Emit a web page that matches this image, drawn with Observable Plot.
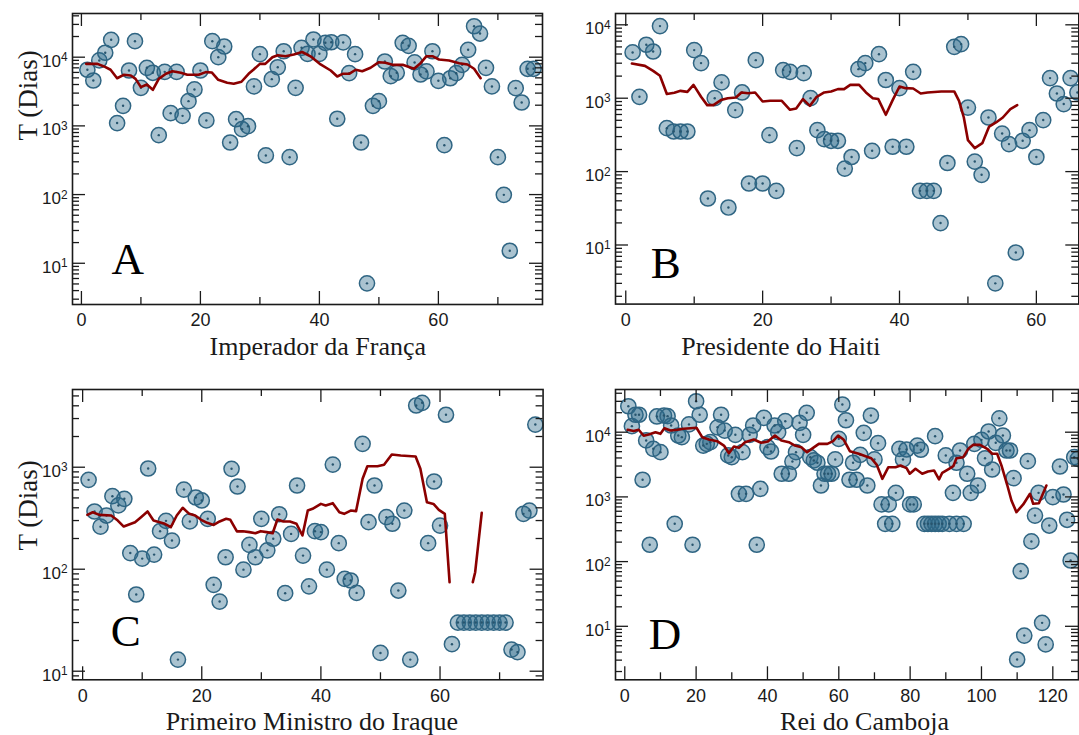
<!DOCTYPE html>
<html><head><meta charset="utf-8">
<script src="https://cdn.jsdelivr.net/npm/d3@7"></script>
<script src="https://cdn.jsdelivr.net/npm/@observablehq/plot@0.6"></script>
<style>
html,body{margin:0;padding:0;background:#fff;overflow:hidden;}
#chart{position:relative;width:1079px;height:735px;}
#chart svg{position:absolute;overflow:visible;background:transparent;}
</style></head><body><div id="chart"></div>
<script>
// ---------- Panel A: Imperador da França ----------
const aX = [1,2,3,4,5,6,7,8,9,10,11,12,13,14,15,16,17,18,19,20,21,22,23,24,25,26,27,28,29,30,31,32,33,34,35,36,37,38,39,40,41,42,43,44,45,46,47,48,49,50,51,52,53,54,55,56,57,58,59,60,61,62,63,64,65,66,67,68,69,70,71,72,73,74,75,76];
const aT = [6560,4580,8960,11600,17900,1100,1960,6400,17100,3580,7010,5930,733,6120,1530,6120,1400,2290,3390,6400,1200,17100,10000,14300,573,1250,896,990,3750,11070,371,4790,7140,12200,350,3580,13700,11200,18100,11200,16200,16500,1270,16400,5850,11070,573,5.1,1960,2290,8650,5290,5930,16200,14650,8380,5600,6200,12200,4530,523,4940,5850,7740,12800,28200,22100,7010,3750,350,99,15.2,3540,2190,6780,6780];
const aLineX = [0.8,2.7,3.8,4.9,6.0,7.1,8.3,9.1,10.0,11.0,12.0,13.0,14.2,15.3,16.7,17.8,19.7,20.9,21.9,23.0,24.5,25.6,26.9,28.1,28.9,30.0,30.9,32.1,33.0,34.3,35.7,37.1,38.5,40.2,41.9,43.0,43.9,45.0,46.1,47.2,48.6,50.0,51.1,52.3,54.0,55.9,57.0,58.0,59.0,60.1,61.8,63.5,64.9,66.0,67.1];
const aLineT = [8000,8000,7330,6560,4940,5540,5410,4840,3660,4000,3350,4840,5730,6250,5930,5540,5540,6060,6000,4690,4240,4100,4390,5730,6560,8000,8000,10000,10700,10340,10940,11900,10300,7830,6400,5230,5730,5730,6560,6250,7010,8460,8300,7740,7740,6780,8180,10340,10340,9260,8960,8180,7830,6780,4940];

// ---------- Panel B: Presidente do Haiti ----------
const bX = [1,2,3,4,5,6,7,8,9,10,11,12,13,14,15,16,17,18,19,20,21,22,23,24,25,26,27,28,29,30,31,32,33,34,35,36,37,38,39,40,41,42,43,44,45,46,47,48,49,50,51,52,53,54,55,56,57,58,59,60,61,62,63,64,65,66];
const bT = [4200,1045,5350,4330,9600,391,352,352,352,4520,3010,43,1000,1640,32.4,689,1197,68.9,3300,68.9,314,54.7,2415,2290,209,2200,1000,367,277,263,263,110,158,2490,3010,192,3980,1770,218,1370,218,2290,54.7,54.7,54.7,19.9,131,5010,5460,746,137,90.4,546,3.0,330,237,7.9,263,367,158,504,1880,1160,832,1880,1197];
const bLineX = [0.9,2.8,4.0,5.0,6.0,7.1,8.0,9.0,9.9,11.0,11.9,12.8,13.9,14.9,16.1,16.9,17.9,18.9,20.0,21.1,22.8,24.0,24.9,25.9,26.9,27.9,29.0,30.0,31.0,31.9,32.8,34.1,35.1,36.1,36.9,38.0,39.0,40.0,40.9,42.0,43.1,44.1,46.1,48.0,48.7,49.4,50.0,51.0,52.1,53.1,54.1,55.1,56.2,57.2];
const bLineT = [2970,2760,2360,2020,1140,1190,1260,1220,1520,1045,805,805,942,1000,1020,1197,1170,1197,902,922,922,695,724,973,787,1045,1197,1236,1330,1330,1520,1520,1197,1000,973,594,942,1445,1370,1355,1160,1197,1236,1236,922,546,268,209,244,411,467,546,710,805];

// ---------- Panel C: Primeiro Ministro do Iraque ----------
const cX = [1,2,3,4,5,6,7,8,9,10,11,12,13,14,15,16,17,18,19,20,21,22,23,24,25,26,27,28,29,30,31,32,33,34,35,36,37,38,39,40,41,42,43,44,45,46,47,48,49,50,51,52,53,54,55,56,57,58,59,60,61,62,63,64,65,66,67,68,69,70,71,72,73,74,75,76];
const cT = [752,368,261,336,520,422,490,144,56.5,127,971,139,236,298,191,13,604,294,505,472,312,70.3,48.2,131,965,647,99,173,131,312,153,199,346,58.2,222,662,136,68,236,231,99,1062,180,80.5,77.5,58.6,1694,289,662,15.1,324,279,61.8,376,13,4030,4280,180,724,268,3270,18.4,30,30,30,30,30,30,30,30,30,16.3,15.4,349,376,2620];
const cLineX = [0.8,1.7,2.8,4.8,5.9,6.9,8.8,9.8,10.9,11.9,13.8,14.8,15.8,16.8,17.9,18.9,19.9,20.9,22.0,23.0,24.1,24.8,25.9,26.9,28.0,29.0,29.9,30.9,31.9,32.7,33.7,34.8,35.9,36.9,37.8,38.6,40.0,40.8,42.0,43.1,43.9,45.0,45.9,47.0,47.8,49.5,50.6,51.9,53.4,55.9,56.7,57.8,58.9,59.8,60.8,61.6,63.5,65.5,65.9,67.0];
const cLineT = [341,362,341,336,300,262,289,324,368,300,279,258,336,400,349,336,305,285,272,294,312,305,235,236,231,225,236,231,225,307,294,294,279,214,376,391,437,422,444,362,349,376,371,770,1023,1023,1056,1333,1303,1274,964,454,437,382,349,74.7,null,74.7,93.5,357];

// ---------- Panel D: Rei do Camboja ----------
const dX = [1,2,3,4,5,6,7,8,9,10,11,12,13,14,15,16,18,19,20,21,22,23,24,26,27,28,29,30,31,32,33,34,35,36,37,38,39,40,41,42,43,44,45,46,47,48,49,50,51,52,53,54,55,56,57,58,59,60,61,62,63,64,65,66,67,68,69,70,71,72,73,74,75,76,77,78,79,80,81,82,83,84,85,86,87,87,88,89,90,91,92,93,93,94,95,96,97,98,99,100,101,102,103,104,105,106,107,108,109,110,111,112,113,114,115,116,117,118,119,120,122,123,124,125,126,127];
const dT = [25200,12400,18600,18600,1840,7450,182,5540,17500,4910,18100,17700,12700,384,8890,8380,13200,182,30100,18600,6220,6600,7000,11900,18600,10600,4370,4110,9120,1117,4910,1117,9120,12700,182,1334,16700,5860,5030,12700,10000,2280,14800,2280,3520,4910,13970,9120,19950,4110,3660,3370,1500,2280,2280,2280,3790,7910,26800,15300,1840,3370,1840,4470,9780,1500,18100,3790,6760,764,384,764,384,1156,5540,3790,5400,764,764,6220,5350,384,384,384,384,8670,384,384,4370,384,1156,384,3370,5210,384,2280,1156,6600,1500,7620,3960,10250,2650,6860,16400,8890,5210,5210,1945,3.07,71,7.2,3570,205,515,1156,11.3,5.24,361,990,2950,1090,443,104,4110,3880];
const dLineX = [0.8,2.5,3.9,5.3,6.7,8.6,10.0,11.1,12.8,14.7,16.5,18.4,20.1,21.7,23.6,25.9,27.8,29.2,30.6,32.0,33.7,36.2,38.2,40.1,42.1,43.9,46.0,47.7,49.5,51.1,52.8,54.4,56.8,58.4,59.8,61.4,63.1,65.6,67.5,69.1,70.6,72.2,73.9,75.9,77.3,79.0,79.9,81.5,83.4,85.0,86.7,88.1,89.0,90.9,92.1,93.0,94.9,96.3,97.7,99.6,101.6,103.0,104.4,105.6,107.2,108.4,109.8,111.7,113.6,114.5,116.1,118.2];
const dLineT = [10900,10400,10900,8800,9210,10000,9440,11500,10600,10900,11300,11500,11700,8380,7710,7260,6220,4730,6010,5730,7000,7710,6860,7180,8890,7450,7000,6220,5860,4910,5730,6600,6600,7260,8890,7620,5080,4640,4260,3960,3160,1905,2880,2880,3060,2780,2280,2720,2280,2470,2560,1860,2360,2720,2980,3960,4110,5540,6380,6380,5540,4640,4640,3060,1540,879,581,764,1117,782,800,1500];

// ---------- Tick labels and texts ----------
const xTicksAC = [0,20,40,60];
const xTicksB = [0,20,40,60];
const xTicksD = [0,20,40,60,80,100,120];
const yTicks4 = [10,100,1000,10000];
const yTicks3 = [10,100,1000];
const yLabel = "T (Dias)";
const xLabels = ["Imperador da França","Presidente do Haiti","Primeiro Ministro do Iraque","Rei do Camboja"];
const letters = ["A","B","C","D"];

const SERIF = "Liberation Serif, DejaVu Serif, serif";
const SANS = "Liberation Sans, Arial, sans-serif";
const INK = "#1a1a1a";

function makePanel(c) {
  const mL = 70, mT = 10, mR = c.mR, mB = 70;
  const W = c.R - c.L, H = c.B - c.T;
  const pts = c.px.map((x, i) => ({x, v: c.pv[i]}));
  const line = c.lx.map((x, i) => ({x, v: c.lv[i] == null ? NaN : c.lv[i]}));
  const [x0, x1] = c.xDomain;
  const minorX = [];
  for (let t = Math.ceil(x0 / 10) * 10; t <= x1; t += 10) if (!c.xTicks.includes(t)) minorX.push(t);
  const [y0, y1] = c.yDomain;
  const minorY = [];
  for (let e = Math.floor(Math.log10(y0)); e <= Math.ceil(Math.log10(y1)); e++)
    for (let k = 2; k <= 9; k++) { const v = k * Math.pow(10, e); if (v >= y0 && v <= y1) minorY.push(v); }
  const tk = {stroke: INK, strokeWidth: 1.3};
  const plot = Plot.plot({
    width: W + mL + mR, height: H + mT + mB,
    marginLeft: mL, marginRight: mR, marginTop: mT, marginBottom: mB,
    style: {background: "transparent", overflow: "visible"},
    x: {domain: c.xDomain, axis: null},
    y: {type: "log", domain: c.yDomain, axis: null},
    marks: [
      Plot.dot(pts, {x: "x", y: "v", r: 7.6, fill: "#2a6989", fillOpacity: 0.4, stroke: "#2f6583", strokeWidth: 1.5}),
      Plot.dot(pts, {x: "x", y: "v", r: 1.2, fill: "#28556e"}),
      Plot.line(line, {x: "x", y: "v", stroke: "#8b0000", strokeWidth: 2.6}),
      Plot.tickX(c.xTicks, {x: d => d, insetTop: H - 13, ...tk}),
      Plot.tickX(c.xTicks, {x: d => d, insetBottom: H - 13, ...tk}),
      Plot.tickX(minorX, {x: d => d, insetTop: H - 7, ...tk}),
      Plot.tickX(minorX, {x: d => d, insetBottom: H - 7, ...tk}),
      Plot.tickY(c.yTicks, {y: d => d, insetRight: W - 13, ...tk}),
      Plot.tickY(c.yTicks, {y: d => d, insetLeft: W - 13, ...tk}),
      Plot.tickY(minorY, {y: d => d, insetRight: W - 7, ...tk}),
      Plot.tickY(minorY, {y: d => d, insetLeft: W - 7, ...tk}),
      Plot.frame({stroke: INK, strokeWidth: 1.6}),
      Plot.axisX(c.xTicks, {tickSize: 0, tickPadding: 9, fontSize: 18, fontFamily: SANS, fill: INK, label: null}),
      Plot.axisY(c.yTicks, {tickSize: 0, tickPadding: 5, fontSize: 17, fontFamily: SANS, fill: INK, label: null, dy: 4,
        tickFormat: d => "10^" + Math.round(Math.log10(d))}),
      Plot.text([c.xLabel], {text: d => d, frameAnchor: "bottom", lineAnchor: "bottom",
        dx: c.xLabelX - (c.L + c.R) / 2, dy: c.xLabelBase - c.B, fontSize: 26, fontFamily: SERIF, fill: INK}),
      Plot.text([c.letter], {text: d => d, frameAnchor: "bottom-left", textAnchor: "start", lineAnchor: "bottom",
        dx: c.letterX - c.L, dy: c.letterBase - c.B, fontSize: 45, fontFamily: SERIF, fill: "#000"}),
      ...(c.yLabelY != null ? [Plot.text([yLabel], {text: d => d, frameAnchor: "left", rotate: -90,
        dx: 28 - c.L, dy: c.yLabelY - (c.T + c.B) / 2, fontSize: 27, fontFamily: SERIF, fill: INK})] : [])
    ]
  });
  plot.style.left = (c.L - mL) + "px";
  plot.style.top = (c.T - mT) + "px";
  plot.querySelectorAll('g[aria-label="y-axis tick label"] text').forEach(t => {
    const parts = t.textContent.split("^");
    if (parts.length !== 2) return;
    t.textContent = parts[0];
    const ts = document.createElementNS("http://www.w3.org/2000/svg", "tspan");
    ts.setAttribute("dy", "-0.45em");
    ts.setAttribute("font-size", "0.7em");
    ts.textContent = parts[1];
    t.appendChild(ts);
  });
  document.getElementById("chart").appendChild(plot);
}

makePanel({L: 71.7, R: 541.7, T: 13, B: 304, mR: 10, xDomain: [-1.5, 77.5], yDomain: [2.51, 43250],
  px: aX, pv: aT, lx: aLineX, lv: aLineT, xTicks: xTicksAC, yTicks: yTicks4,
  xLabel: xLabels[0], xLabelX: 317, xLabelBase: 354, letter: letters[0], letterX: 110.7, letterBase: 273, yLabelY: 140});
makePanel({L: 614.7, R: 1078, T: 12.7, B: 303.3, mR: 1, xDomain: [-1.5, 66.2], yDomain: [1.566, 14260],
  px: bX, pv: bT, lx: bLineX, lv: bLineT, xTicks: xTicksB, yTicks: yTicks4,
  xLabel: xLabels[1], xLabelX: 780, xLabelBase: 354, letter: letters[1], letterX: 650, letterBase: 277.7});
makePanel({L: 71.7, R: 542.3, T: 389, B: 679.3, mR: 10, xDomain: [-1.7, 77.3], yDomain: [8.24, 5780],
  px: cX, pv: cT, lx: cLineX, lv: cLineT, xTicks: xTicksAC, yTicks: yTicks3,
  xLabel: xLabels[2], xLabelX: 311, xLabelBase: 730, letter: letters[2], letterX: 110, letterBase: 645.7, yLabelY: 550});
makePanel({L: 615, R: 1078, T: 389, B: 679.3, mR: 1, xDomain: [-2.6, 127.2], yDomain: [1.49, 45700],
  px: dX, pv: dT, lx: dLineX, lv: dLineT, xTicks: xTicksD, yTicks: yTicks4,
  xLabel: xLabels[3], xLabelX: 864, xLabelBase: 730, letter: letters[3], letterX: 648.3, letterBase: 648.3});
</script></body></html>
